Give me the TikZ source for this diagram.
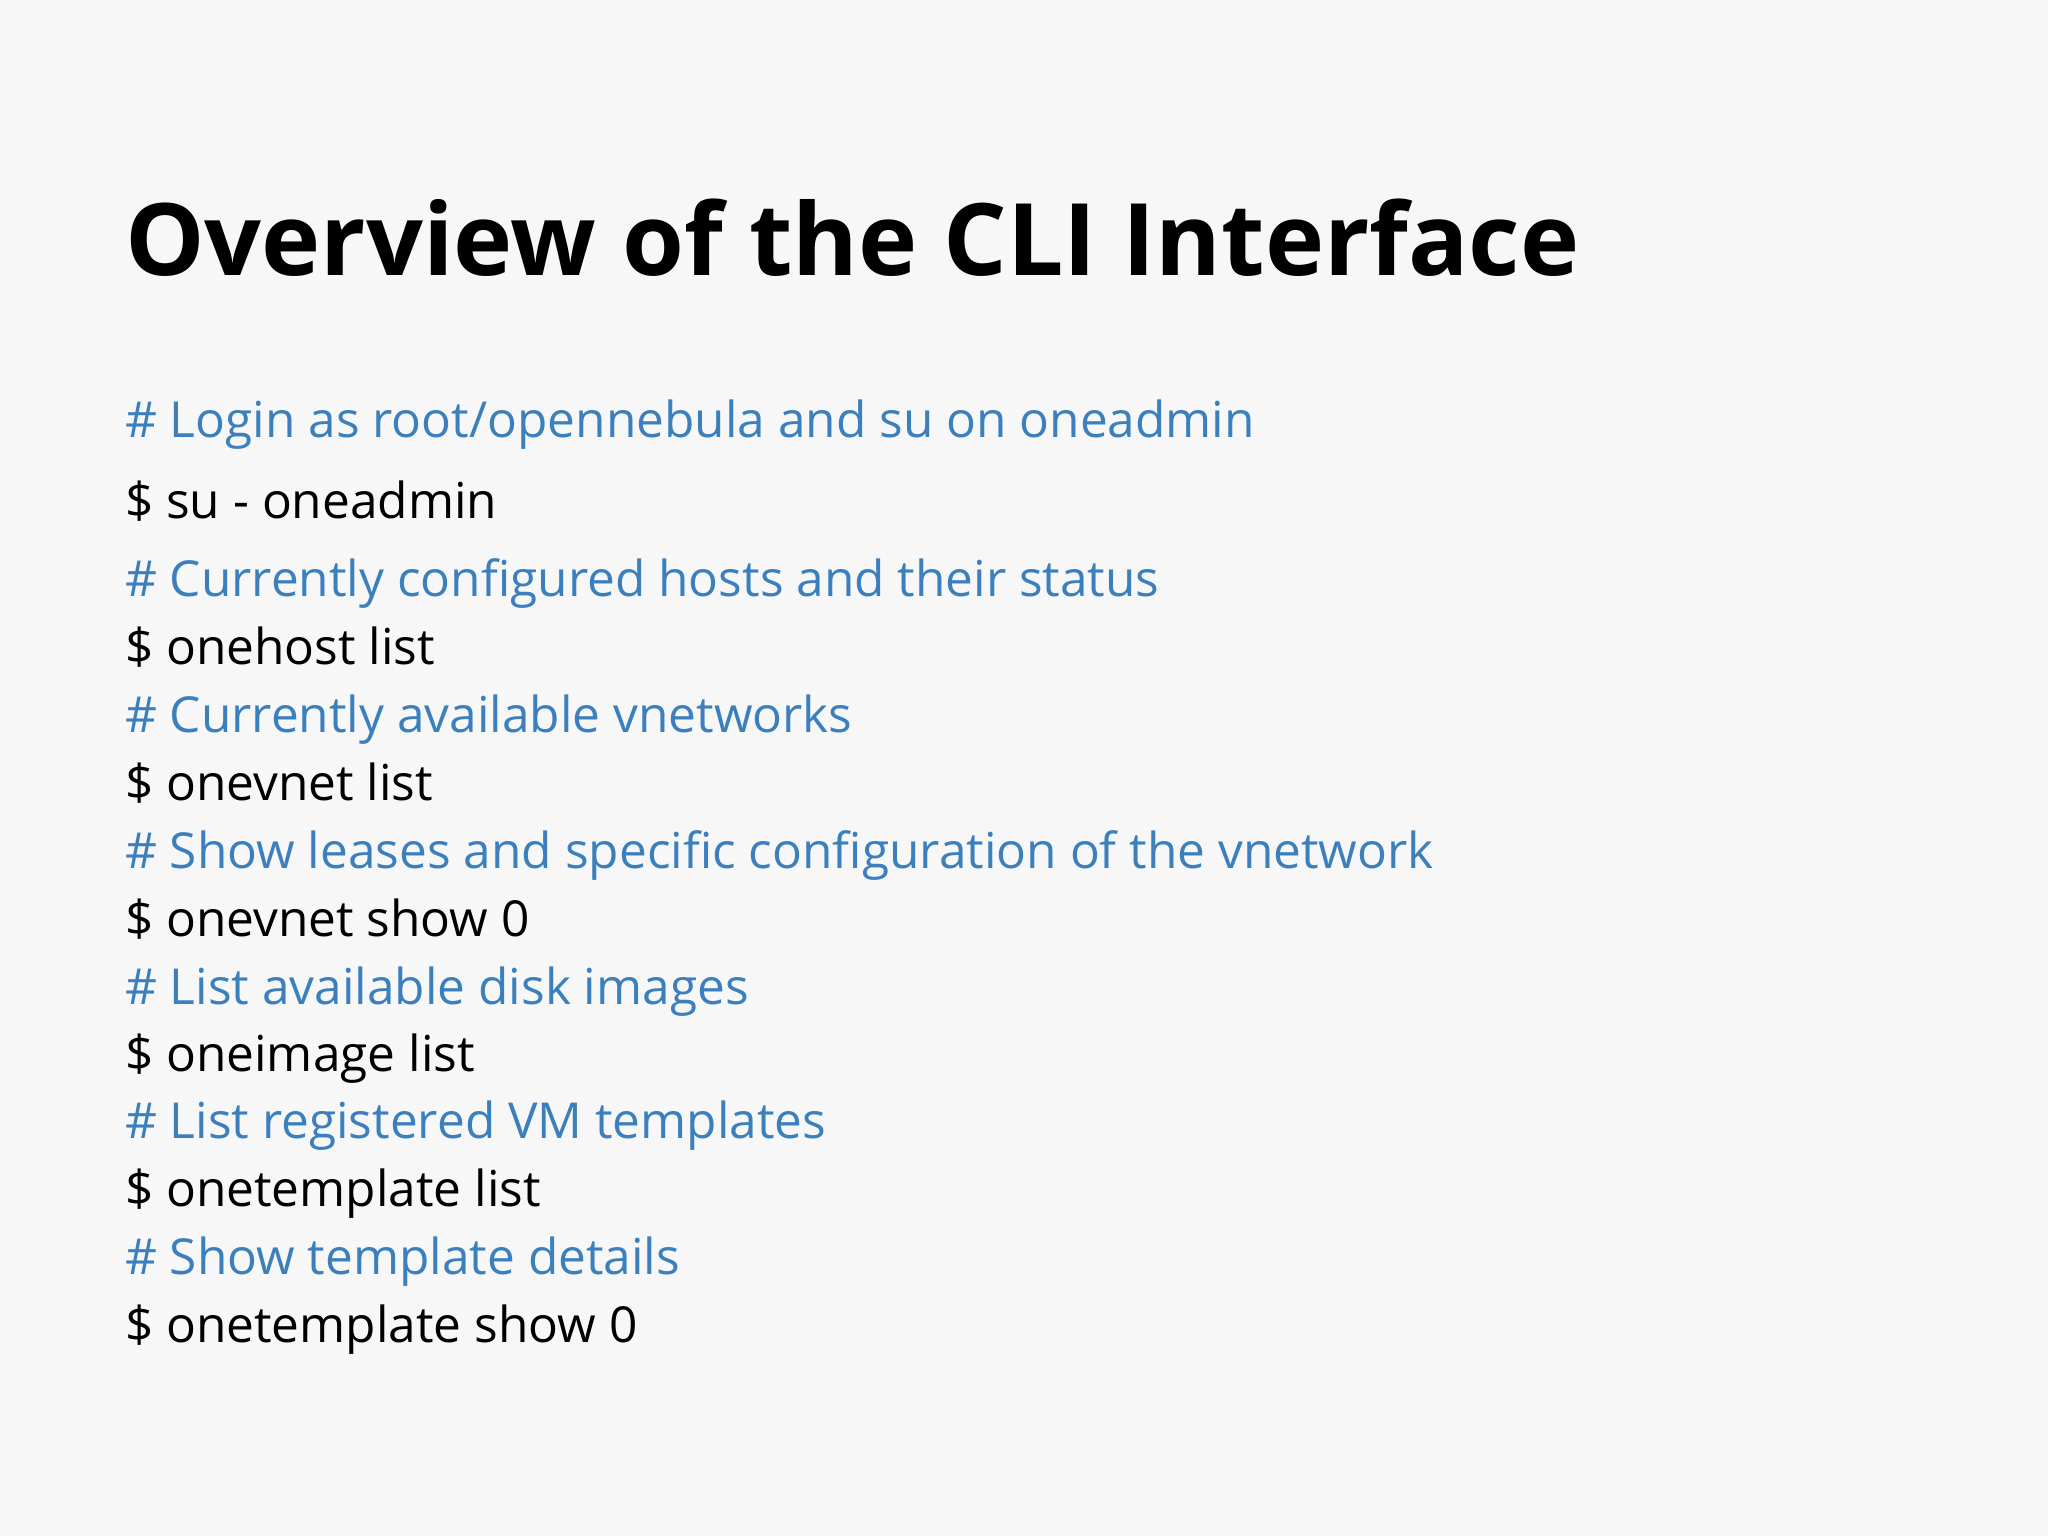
\documentclass[tikz,border=0pt]{standalone}
\usepackage{fontspec}
\setmainfont{Open Sans}
\definecolor{bg}{HTML}{F7F7F8}
\definecolor{cmtcol}{HTML}{3B80BD}
\begin{document}
\begin{tikzpicture}[
  lnbase/.style={anchor=base west, inner sep=0pt, font=\fontsize{10.8}{13}\selectfont},
  cmtline/.style={lnbase, text=cmtcol},
  cmdline/.style={lnbase, text=black}]
\fill[bg] (0,0) rectangle (15.68,-11.76);
\useasboundingbox (0,0) rectangle (15.68,-11.76);
\node[anchor=base west, inner sep=0pt, font=\fontsize{21.8}{26}\bfseries\selectfont] (title) at (0.95,-2.11) {Overview of the CLI Interface};
\node[cmtline] (c1) at (0.95,-3.35) {\# Login as root/opennebula and su on oneadmin};
\node[cmdline] (d1) at (0.95,-3.97) {\$ su - oneadmin};
\node[cmtline] (c2) at (0.95,-4.57) {\# Currently configured hosts and their status};
\node[cmdline] (d2) at (0.95,-5.09) {\$ onehost list};
\node[cmtline] (c3) at (0.95,-5.61) {\# Currently available vnetworks};
\node[cmdline] (d3) at (0.95,-6.13) {\$ onevnet list};
\node[cmtline] (c4) at (0.95,-6.65) {\# Show leases and specific configuration of the vnetwork};
\node[cmdline] (d4) at (0.95,-7.17) {\$ onevnet show 0};
\node[cmtline] (c5) at (0.95,-7.69) {\# List available disk images};
\node[cmdline] (d5) at (0.95,-8.20) {\$ oneimage list};
\node[cmtline] (c6) at (0.95,-8.72) {\# List registered VM templates};
\node[cmdline] (d6) at (0.95,-9.24) {\$ onetemplate list};
\node[cmtline] (c7) at (0.95,-9.76) {\# Show template details};
\node[cmdline] (d7) at (0.95,-10.28) {\$ onetemplate show 0};
\end{tikzpicture}
\end{document}
